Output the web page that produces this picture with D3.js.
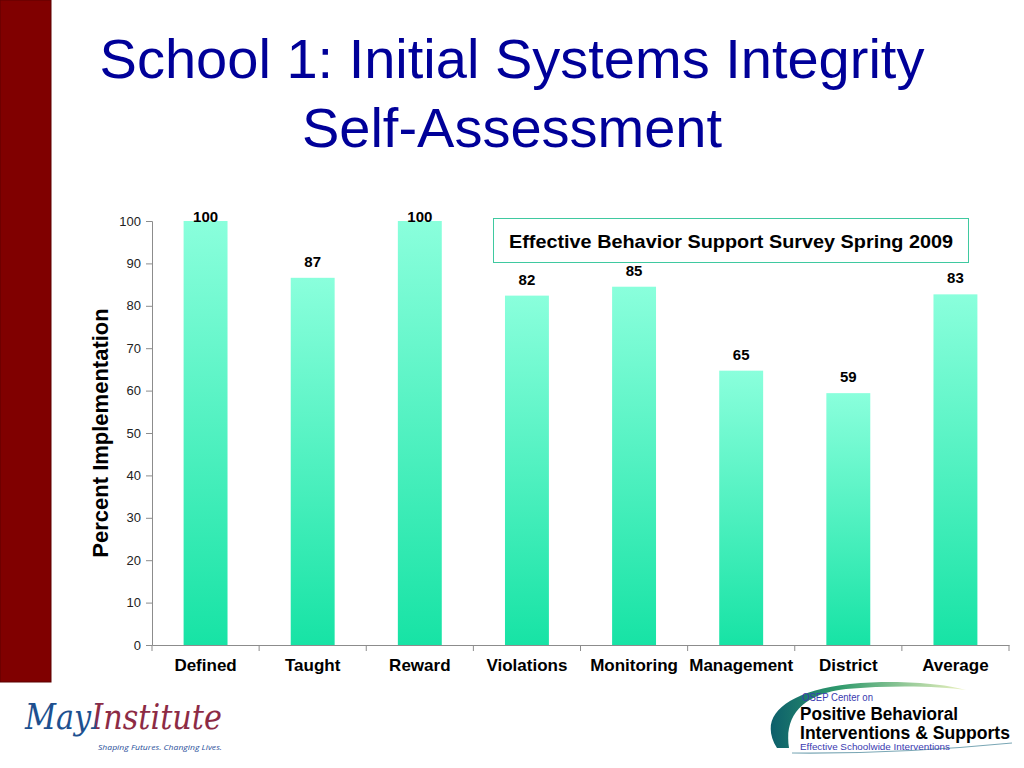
<!DOCTYPE html>
<html>
<head>
<meta charset="utf-8">
<title>School 1: Initial Systems Integrity Self-Assessment</title>
<script src="https://cdn.jsdelivr.net/npm/d3@7"></script>
<style>
  body { margin: 0; background: #fff; }
  svg { display: block; }
</style>
</head>
<body>
<div id="main"></div>
<script>
"use strict";

// chart data
const categories = ["Defined", "Taught", "Reward", "Violations", "Monitoring", "Management", "District", "Average"];
const percentValues = [100, 86.6, 100, 82.4, 84.5, 64.7, 59.4, 82.7];
const yTicks = [0, 10, 20, 30, 40, 50, 60, 70, 80, 90, 100];
const titleLines = ["School 1: Initial Systems Integrity", "Self-Assessment"];
const legendText = "Effective Behavior Support Survey Spring 2009";
const yAxisLabel = "Percent Implementation";

const width = 1024;
const height = 768;
const plot = { left: 152, right: 1009, top: 221, bottom: 645 };

function drawSlideFrame(svg) {
    // dark red strip on the left side of the slide
    svg.append("rect")
        .attr("x", 0).attr("y", 0)
        .attr("width", 51).attr("height", 682)
        .attr("fill", "#800000")
        .attr("stroke", "#5c0000")
        .attr("stroke-width", 1);

    // two line title
    svg.append("g")
        .selectAll("text")
        .data(titleLines)
        .join("text")
        .attr("x", 512)
        .attr("y", (d, i) => 78 + i * 69)
        .attr("text-anchor", "middle")
        .style("font", "56px 'Liberation Sans', Arial, sans-serif")
        .attr("fill", "#000099")
        .text(d => d);
}

function drawChart(svg) {
    const x = d3.scaleBand()
        .domain(categories)
        .range([plot.left, plot.right])
        .paddingInner(0.59)
        .paddingOuter(0.295);

    const y = d3.scaleLinear()
        .domain([0, 100])
        .range([plot.bottom, plot.top]);

    // vertical gradient used to fill the bars
    const grad = svg.append("defs").append("linearGradient")
        .attr("id", "barFill")
        .attr("x1", 0).attr("y1", 0).attr("x2", 0).attr("y2", 1);
    grad.append("stop").attr("offset", "0%").attr("stop-color", "#8affdc");
    grad.append("stop").attr("offset", "100%").attr("stop-color", "#17e3a5");

    const data = categories.map((c, i) => ({ name: c, value: percentValues[i] }));

    // bars
    svg.append("g")
        .selectAll("rect")
        .data(data)
        .join("rect")
        .attr("x", d => x(d.name))
        .attr("y", d => y(d.value))
        .attr("width", x.bandwidth())
        .attr("height", d => y(0) - y(d.value))
        .attr("fill", "url(#barFill)");

    // y axis
    const yAxis = svg.append("g")
        .attr("transform", `translate(${plot.left},0)`)
        .call(d3.axisLeft(y).tickValues(yTicks).tickSize(6).tickPadding(5));
    yAxis.select(".domain").attr("stroke", "#8c8c8c");
    yAxis.selectAll(".tick line").attr("stroke", "#8c8c8c");
    yAxis.selectAll(".tick text")
        .style("font", "13px 'Liberation Sans', Arial, sans-serif")
        .attr("fill", "#222");

    // x axis, ticks sit on the category boundaries
    const xAxis = svg.append("g")
        .attr("transform", `translate(0,${plot.bottom})`)
        .call(d3.axisBottom(x).tickSize(0).tickPadding(14));
    xAxis.select(".domain").attr("stroke", "#8c8c8c");
    xAxis.selectAll(".tick text")
        .style("font", "bold 17px 'Liberation Sans', Arial, sans-serif")
        .attr("fill", "#000");
    const step = x.step();
    xAxis.append("g")
        .selectAll("line")
        .data(d3.range(categories.length + 1))
        .join("line")
        .attr("x1", i => plot.left + i * step)
        .attr("x2", i => plot.left + i * step)
        .attr("y1", 0).attr("y2", 6)
        .attr("stroke", "#8c8c8c");

    // value labels above the bars (the 100s get pushed up to the top)
    svg.append("g")
        .selectAll("text")
        .data(data)
        .join("text")
        .attr("x", d => x(d.name) + x.bandwidth() / 2)
        .attr("y", d => Math.max(y(d.value) - 11, y(100) + 1))
        .attr("text-anchor", "middle")
        .style("font", "bold 15px 'Liberation Sans', Arial, sans-serif")
        .attr("fill", "#000")
        .text(d => Math.round(d.value));

    // y axis title
    svg.append("text")
        .attr("transform", `translate(108,433) rotate(-90)`)
        .attr("text-anchor", "middle")
        .style("font", "bold 22px 'Liberation Sans', Arial, sans-serif")
        .attr("fill", "#000")
        .text(yAxisLabel);

    // legend box
    svg.append("rect")
        .attr("x", 493.5).attr("y", 218.5)
        .attr("width", 475).attr("height", 44)
        .attr("fill", "#fff")
        .attr("stroke", "#3fc9a0")
        .attr("stroke-width", 1);
    svg.append("text")
        .attr("x", 731).attr("y", 248)
        .attr("text-anchor", "middle")
        .attr("textLength", 444).attr("lengthAdjust", "spacingAndGlyphs")
        .style("font", "bold 18.5px 'Liberation Sans', Arial, sans-serif")
        .attr("fill", "#000")
        .text(legendText);
}

function drawLogos(svg) {
    const defs = svg.select("defs");

    // May Institute logo (bottom left). One text element, coloured in two
    // parts by a hard-stop gradient so "May" is blue and "Institute" maroon.
    const mayFill = defs.append("linearGradient")
        .attr("id", "mayFill")
        .attr("gradientUnits", "userSpaceOnUse")
        .attr("x1", 25).attr("y1", 0).attr("x2", 222).attr("y2", 0);
    mayFill.append("stop").attr("offset", 0.36).attr("stop-color", "#1f4f8f");
    mayFill.append("stop").attr("offset", 0.36).attr("stop-color", "#8c2a45");

    const may = svg.append("g");
    may.append("text")
        .attr("x", 25).attr("y", 729)
        .attr("textLength", 197).attr("lengthAdjust", "spacingAndGlyphs")
        .style("font", "italic 36px 'DejaVu Serif', serif")
        .attr("fill", "url(#mayFill)")
        .text("MayInstitute");
    may.append("text")
        .attr("x", 98).attr("y", 750)
        .attr("textLength", 124).attr("lengthAdjust", "spacingAndGlyphs")
        .style("font", "italic 8px 'Open Sans', sans-serif")
        .attr("fill", "#2a4f9a")
        .text("Shaping Futures. Changing Lives.");

    // PBIS logo (bottom right)
    const pbis = svg.append("g");
    const swoosh = defs.append("linearGradient")
        .attr("id", "swooshFill")
        .attr("x1", 0).attr("y1", 0).attr("x2", 1).attr("y2", 0);
    swoosh.append("stop").attr("offset", "0%").attr("stop-color", "#0d5f6b");
    swoosh.append("stop").attr("offset", "35%").attr("stop-color", "#2f9a6c");
    swoosh.append("stop").attr("offset", "100%").attr("stop-color", "#eef3c0");
    pbis.append("path")
        .attr("d", "M777,748 C758,718 782,692 850,684 C900,679 945,684 966,690 C940,686 890,685 846,689 C802,694 784,716 789,748 Z")
        .attr("fill", "url(#swooshFill)");
    pbis.append("path")
        .attr("d", "M792,753 Q900,754 1012,743")
        .attr("fill", "none")
        .attr("stroke", "#7aa7b5")
        .attr("stroke-width", 1.2);
    pbis.append("text")
        .attr("x", 802).attr("y", 701)
        .attr("textLength", 71).attr("lengthAdjust", "spacingAndGlyphs")
        .style("font", "10px 'Liberation Sans', Arial, sans-serif")
        .attr("fill", "#3a3ab0")
        .text("OSEP Center on");
    pbis.append("text")
        .attr("x", 800).attr("y", 720)
        .attr("textLength", 158).attr("lengthAdjust", "spacingAndGlyphs")
        .style("font", "18px 'Liberation Sans', Arial, sans-serif")
        .style("font-weight", 600)
        .attr("fill", "#000")
        .text("Positive Behavioral");
    pbis.append("text")
        .attr("x", 800).attr("y", 739)
        .attr("textLength", 210).attr("lengthAdjust", "spacingAndGlyphs")
        .style("font", "18px 'Liberation Sans', Arial, sans-serif")
        .style("font-weight", 600)
        .attr("fill", "#000")
        .text("Interventions & Supports");
    pbis.append("text")
        .attr("x", 800).attr("y", 750)
        .attr("textLength", 150).attr("lengthAdjust", "spacingAndGlyphs")
        .style("font", "9px 'Liberation Sans', Arial, sans-serif")
        .attr("fill", "#3a3ab0")
        .text("Effective Schoolwide Interventions");
}

function main() {
    const svg = d3.select("#main").append("svg")
        .attr("width", width)
        .attr("height", height);

    drawSlideFrame(svg);
    drawChart(svg);
    drawLogos(svg);
}

main();
</script>
</body>
</html>
